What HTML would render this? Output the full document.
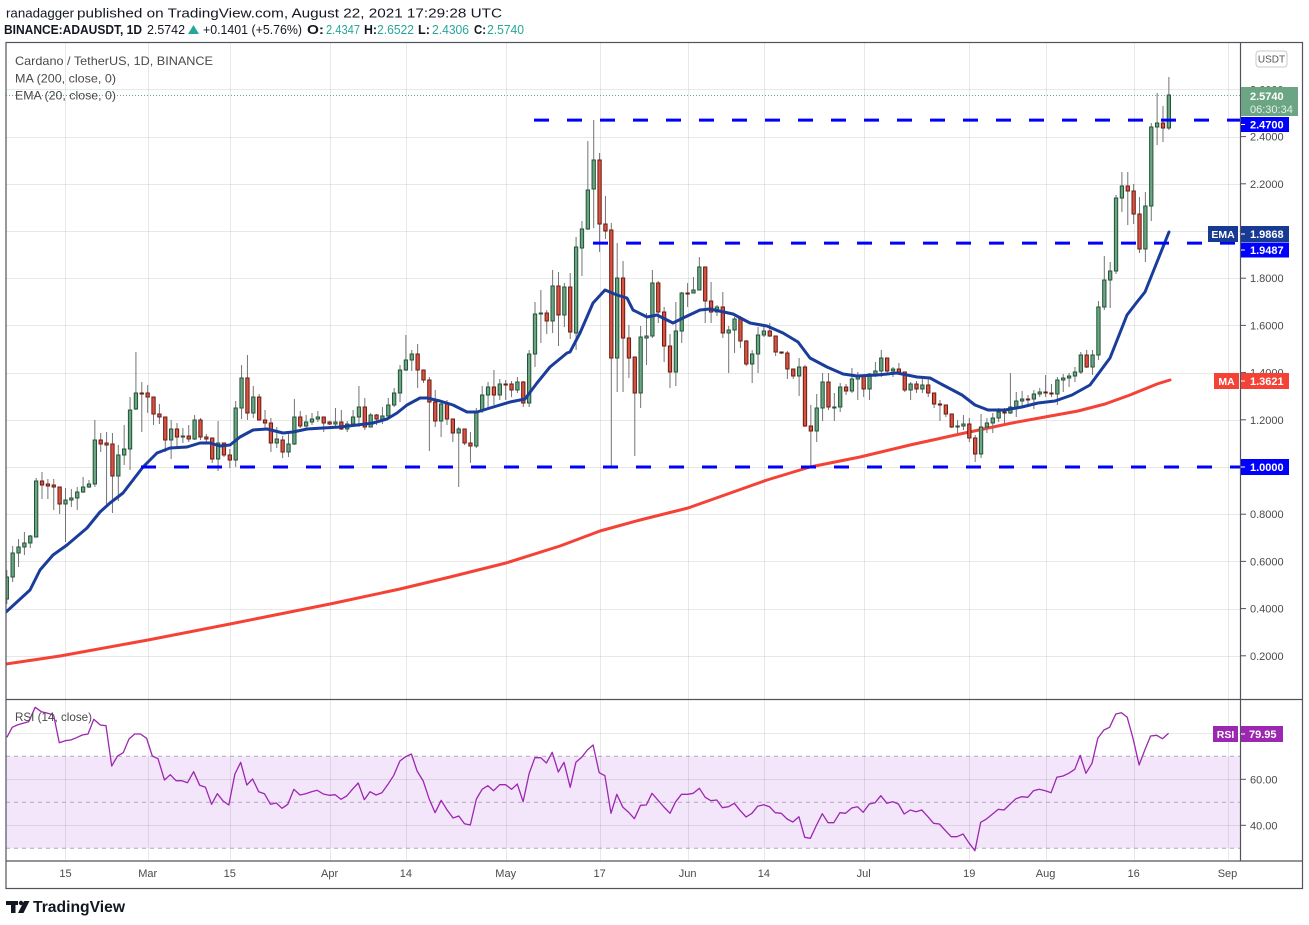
<!DOCTYPE html>
<html><head><meta charset="utf-8">
<style>
html,body{margin:0;padding:0;background:#fff;}
svg{display:block;}
text{font-family:"Liberation Sans",sans-serif;}
</style></head><body>
<svg id="c" width="1309" height="925" viewBox="0 0 1309 925" xmlns="http://www.w3.org/2000/svg">
<defs>
<clipPath id="cp"><rect x="6" y="42.5" width="1234.5" height="656.5"/></clipPath>
<clipPath id="cr"><rect x="6" y="699.5" width="1234.5" height="161.5"/></clipPath>
</defs>
<rect width="1309" height="925" fill="#fff"/>

<!-- header -->
<text x="6" y="17.5" font-size="13" fill="#131722" textLength="68" lengthAdjust="spacingAndGlyphs">ranadagger</text>
<text x="77" y="17.5" font-size="13" fill="#131722" textLength="425" lengthAdjust="spacingAndGlyphs">published on TradingView.com, August 22, 2021 17:29:28 UTC</text>
<text x="4" y="34" font-size="13" font-weight="bold" fill="#131722" textLength="138" lengthAdjust="spacingAndGlyphs">BINANCE:ADAUSDT, 1D</text>
<text x="147" y="34" font-size="13" fill="#131722" textLength="38" lengthAdjust="spacingAndGlyphs">2.5742</text>
<polygon points="188,34 199,34 193.5,25" fill="#26a69a"/>
<text x="203" y="34" font-size="13" fill="#131722" textLength="99" lengthAdjust="spacingAndGlyphs">+0.1401 (+5.76%)</text>
<text x="307" y="34" font-size="13" font-weight="bold" fill="#131722" textLength="17" lengthAdjust="spacingAndGlyphs">O:</text>
<text x="326" y="34" font-size="13" fill="#26a69a" textLength="34" lengthAdjust="spacingAndGlyphs">2.4347</text>
<text x="364" y="34" font-size="13" font-weight="bold" fill="#131722" textLength="13" lengthAdjust="spacingAndGlyphs">H:</text>
<text x="377" y="34" font-size="13" fill="#26a69a" textLength="37" lengthAdjust="spacingAndGlyphs">2.6522</text>
<text x="418" y="34" font-size="13" font-weight="bold" fill="#131722" textLength="12" lengthAdjust="spacingAndGlyphs">L:</text>
<text x="432" y="34" font-size="13" fill="#26a69a" textLength="37" lengthAdjust="spacingAndGlyphs">2.4306</text>
<text x="474" y="34" font-size="13" font-weight="bold" fill="#131722" textLength="12" lengthAdjust="spacingAndGlyphs">C:</text>
<text x="487" y="34" font-size="13" fill="#26a69a" textLength="37" lengthAdjust="spacingAndGlyphs">2.5740</text>

<!-- RSI band -->
<rect x="6" y="756.3" width="1234.5" height="92" fill="#f3e6fb"/>
<g id="grid"></g>
<g id="rsilv"></g>

<!-- price panel -->
<g clip-path="url(#cp)">
  <line x1="6" x2="1240" y1="95.5" y2="95.5" stroke="#6ba583" stroke-width="1" stroke-dasharray="1 2"/>
  <g id="ma"></g>
  <g id="candles"></g>
  <g id="ema"></g>
  <line x1="534" x2="1240" y1="120.1" y2="120.1" stroke="#0000ff" stroke-width="3" stroke-dasharray="15 18"/>
  <line x1="593" x2="1240" y1="243.1" y2="243.1" stroke="#0000ff" stroke-width="3" stroke-dasharray="15 18"/>
  <line x1="141" x2="1240" y1="467" y2="467" stroke="#0000ff" stroke-width="3" stroke-dasharray="15 18"/>
</g>
<g clip-path="url(#cr)"><g id="rsi"></g></g>

<!-- legends -->
<text x="15" y="65" font-size="12" fill="#4a4a4a" textLength="198" lengthAdjust="spacingAndGlyphs">Cardano / TetherUS, 1D, BINANCE</text>
<text x="15" y="82.5" font-size="12" fill="#4a4a4a" textLength="101" lengthAdjust="spacingAndGlyphs">MA (200, close, 0)</text>
<text x="15" y="99.5" font-size="12" fill="#4a4a4a" textLength="101" lengthAdjust="spacingAndGlyphs">EMA (20, close, 0)</text>
<text x="15" y="721" font-size="12" fill="#4a4a4a" textLength="77" lengthAdjust="spacingAndGlyphs">RSI (14, close)</text>

<!-- frame -->
<g stroke="#50535e" stroke-width="1.2" fill="none">
  <rect x="6" y="42.5" width="1296.5" height="846"/>
  <line x1="1240.5" x2="1240.5" y1="42.5" y2="861"/>
  <line x1="6" x2="1302.5" y1="699.5" y2="699.5"/>
  <line x1="6" x2="1302.5" y1="861" y2="861"/>
</g>

<!-- price axis labels -->
<g font-size="11" fill="#4a4a4a">
  <text x="1250" y="93.4">2.6000</text>
  <text x="1250" y="140.6">2.4000</text>
  <text x="1250" y="187.8">2.2000</text>
  <text x="1250" y="235">2.0000</text>
  <text x="1250" y="282.2">1.8000</text>
  <text x="1250" y="329.4">1.6000</text>
  <text x="1250" y="376.6">1.4000</text>
  <text x="1250" y="423.8">1.2000</text>
  <text x="1250" y="518.2">0.8000</text>
  <text x="1250" y="565.4">0.6000</text>
  <text x="1250" y="612.6">0.4000</text>
  <text x="1250" y="659.8">0.2000</text>
  <text x="1250" y="783.3">60.00</text>
  <text x="1250" y="829.3">40.00</text>
</g>
<g stroke="#50535e" stroke-width="1">
  <line x1="1241" x2="1246" y1="89.4" y2="89.4"/>
  <line x1="1241" x2="1246" y1="136.6" y2="136.6"/>
  <line x1="1241" x2="1246" y1="183.8" y2="183.8"/>
  <line x1="1241" x2="1246" y1="278.2" y2="278.2"/>
  <line x1="1241" x2="1246" y1="325.4" y2="325.4"/>
  <line x1="1241" x2="1246" y1="372.6" y2="372.6"/>
  <line x1="1241" x2="1246" y1="419.8" y2="419.8"/>
  <line x1="1241" x2="1246" y1="514.2" y2="514.2"/>
  <line x1="1241" x2="1246" y1="561.4" y2="561.4"/>
  <line x1="1241" x2="1246" y1="608.6" y2="608.6"/>
  <line x1="1241" x2="1246" y1="655.8" y2="655.8"/>
  <line x1="1241" x2="1246" y1="779.3" y2="779.3"/>
  <line x1="1241" x2="1246" y1="825.3" y2="825.3"/>
</g>

<!-- USDT -->
<rect x="1256" y="51" width="31" height="16" rx="3" fill="#fff" stroke="#c8c8c8"/>
<text x="1271.5" y="62.5" font-size="10" fill="#555" text-anchor="middle">USDT</text>

<!-- price tags -->
<rect x="1241" y="87" width="57" height="29" fill="#6ba583"/>
<text x="1250" y="100" font-size="11" font-weight="bold" fill="#fff">2.5740</text>
<text x="1250" y="113" font-size="11" fill="#e3f1e8">06:30:34</text>
<rect x="1241" y="117" width="48" height="15" fill="#0000ff"/>
<text x="1250" y="128.3" font-size="11" font-weight="bold" fill="#fff">2.4700</text>

<rect x="1208" y="226" width="30" height="16" fill="#173a92"/>
<text x="1223" y="238" font-size="10.5" font-weight="bold" fill="#fff" text-anchor="middle">EMA</text>
<rect x="1241" y="226" width="48" height="16" fill="#173a92"/>
<text x="1250" y="238" font-size="11" font-weight="bold" fill="#fff">1.9868</text>
<rect x="1241" y="242.5" width="48" height="15" fill="#0000ff"/>
<text x="1250" y="254" font-size="11" font-weight="bold" fill="#fff">1.9487</text>

<rect x="1214" y="373" width="25" height="16" fill="#f44336"/>
<text x="1226.5" y="385" font-size="10.5" font-weight="bold" fill="#fff" text-anchor="middle">MA</text>
<rect x="1241" y="373" width="48" height="16" fill="#f44336"/>
<text x="1250" y="385" font-size="11" font-weight="bold" fill="#fff">1.3621</text>

<rect x="1241" y="459" width="48" height="16" fill="#0000ff"/>
<text x="1250" y="471" font-size="11" font-weight="bold" fill="#fff">1.0000</text>

<rect x="1213" y="726" width="25" height="16" fill="#9c27b0"/>
<text x="1225.5" y="738" font-size="10.5" font-weight="bold" fill="#fff" text-anchor="middle">RSI</text>
<rect x="1241" y="726" width="42" height="16" fill="#9c27b0"/>
<text x="1249" y="738" font-size="11" font-weight="bold" fill="#fff">79.95</text>

<g stroke="#fff" stroke-width="1">
  <line x1="1241" x2="1245" y1="124.5" y2="124.5"/>
  <line x1="1241" x2="1245" y1="234" y2="234"/>
  <line x1="1241" x2="1245" y1="250" y2="250"/>
  <line x1="1241" x2="1245" y1="381" y2="381"/>
  <line x1="1241" x2="1245" y1="467" y2="467"/>
  <line x1="1241" x2="1245" y1="734" y2="734"/>
</g>

<!-- time axis -->
<g font-size="11" fill="#4a4a4a" text-anchor="middle">
  <text x="65.5" y="877">15</text>
  <text x="147.7" y="877">Mar</text>
  <text x="229.8" y="877">15</text>
  <text x="329.6" y="877">Apr</text>
  <text x="405.9" y="877">14</text>
  <text x="505.7" y="877">May</text>
  <text x="599.6" y="877">17</text>
  <text x="687.6" y="877">Jun</text>
  <text x="763.9" y="877">14</text>
  <text x="863.7" y="877">Jul</text>
  <text x="969.3" y="877">19</text>
  <text x="1045.6" y="877">Aug</text>
  <text x="1133.6" y="877">16</text>
  <text x="1227.5" y="877">Sep</text>
</g>

<!-- logo -->
<g fill="#131722">
  <rect x="6" y="901" width="12" height="4"/>
  <rect x="11" y="901" width="4.5" height="12"/>
  <circle cx="21" cy="903" r="2.2"/>
  <polygon points="18,913 24,901 29.5,901 23.5,913"/>
</g>
<text x="33" y="912" font-size="16" font-weight="bold" fill="#131722" textLength="92" lengthAdjust="spacingAndGlyphs">TradingView</text>
</svg>
<script>
(function(){
var NS="http://www.w3.org/2000/svg";
function mk(t,a,p){var e=document.createElementNS(NS,t);for(var k in a)e.setAttribute(k,a[k]);p.appendChild(e);return e;}
var X0=6.8,DX=5.869;
var GC="rgba(0,0,0,0.09)";
var grid=document.getElementById('grid');
// horizontal price grid
for(var p=0.2;p<2.7;p+=0.2){var y=Math.round(467-(p-1)*236)+0.5;mk('line',{x1:6,x2:1240,y1:y,y2:y,stroke:GC,'stroke-width':1},grid);}
// rsi solid
[733.3,779.3,825.3].forEach(function(y){y=Math.round(y)+0.5;mk('line',{x1:6,x2:1240,y1:y,y2:y,stroke:GC,'stroke-width':1},grid);});
// vertical
[10,24,38,55,68,85,101,116,129,146,164,177,192,208].forEach(function(d){var x=Math.round(X0+d*DX)+0.5;mk('line',{x1:x,x2:x,y1:43,y2:861,stroke:GC,'stroke-width':1},grid);});
var lv=document.getElementById('rsilv');
[756.3,802.3,848.3].forEach(function(y){mk('line',{x1:6,x2:1240,y1:y,y2:y,stroke:'#b4a6bd','stroke-width':1,'stroke-dasharray':'4 4'},lv);});

var C=[
[599,570,604,577],[577,546,582,553],[553,539,567,547],[547,532,555,543],[543,535,548,536],
[537,478,537,481],[481,472,499,485],[484,479,499,486],[485,479,510,487],[487,487,514,504],
[504,488,542,500],[500,489,507,498],[498,487,510,492],[492,477,493,487],[487,480,488,484],
[484,420,487,440],[440,433,452,444],[443,432,507,445],[444,433,513,476],[476,445,501,455],
[455,425,465,449],[449,397,470,410],[409,352,410,393],[393,382,432,394],[393,385,413,397],
[397,397,425,414],[414,404,424,417],[417,417,452,440],[440,420,459,429],[429,423,447,437],
[436.5,428,443,436],[436,425,442,439],[439,415,440,420],[420,418,440,437],[437,434,442,439],
[438,438,463,459],[459,421,471,443],[443,443,457,455],[455,449,468,460],[460,401,467,408],
[408,365,419,378],[378,355,420,413],[413,386,418,397],[397,394,420,420],[420,410,430,423],
[423,418,452,443],[443,427,448,439],[440,436,458,452],[452,432,457,444],[444,399,445,417],
[417,411,428,426],[426,415,430,422],[422,413,425,419],[419,411,422,417],[417,417,432,423],
[422,421,425,424],[424,408,427,422],[422,410,430,429],[429,421,432,424],[424,410,427,417],
[417,386,427,407],[407,398,430,427],[427,413,427,415],[415,414,425,419],[419,407,424,416],
[416,398,417,405],[405,388,407,393],[393,365,402,370],[370,335,371,360],[360,350,371,354],
[354,344,388,370],[370,370,383,380],[380,377,451,402],[402,390,427,421],[421,402,437,404],
[404,400,425,419],[419,419,442,433],[433,427,487,429],[429,429,445,443],[443,432,463,446],
[446,408,448,411],[411,386,413,395],[395,382,408,387],[387,370,405,395],[395,379,400,384],
[384,380,400,385],[384,381,397,390],[390,377,393,382],[382,381,407,403],[403,350,407,354],
[354,302,367,314],[314,290,343,313],[313,310,334,321],[321,270,333,286],[286,272,346,315],
[315,283,327,287],[287,273,339,332],[333,237,350,247],[248,221,276,229],[229,141,230,190],
[189,120,228,160],[160,153,252,224],[224,196,239,231],[230,223,466,358],[358,243,392,278],
[278,261,392,338],[338,325,378,358],[357,357,456,393],[393,326,408,337],[338,313,365,336],
[336,270,338,283],[283,281,323,312],[312,307,362,346],[346,334,388,372],[372,302,386,331],
[331,292,343,293],[293,283,307,294],[293,277,293,290],[290,257,290,267],[267,267,323,301],
[301,282,323,312],[312,305,316,307],[307,292,338,333],[333,326,373,330],[330,317,353,319],
[319,316,348,341],[341,340,366,364],[364,350,383,354],[354,327,373,335],[335,326,337,331],
[331,323,337,336],[336,336,356,352],[352,352,354,353],[353,351,379,369],[369,369,379,376],
[376,358,396,367],[367,365,427,426],[426,405,467,431],[431,394,442,408],[408,373,421,382],
[382,373,410,407],[407.5,393,421,407],[407,383,412,387],[387,384,395,391],[391,368,393,379],
[379,372,400,376],[376,375,397,389],[389,373,400,374],[374,362,377,371],[371,350,377,358],
[358,358,375,371],[371,367,377,369],[369,363,374,372],[372,372,392,390],[390,382,400,384],
[384,381,393,389],[389,379,393,385],[385,378,397,393],[393,393,408,404],[404,400,421,405],
[405,405,417,414],[414,414,428,427],[427,420,433,426],[426,415,430,424],[424,418,442,438],
[438,435,462,454],[454,414,458,427],[427,418,433,423],[423,413,433,418],[418,408,422,412],
[412,408,423,413],[413,373,414,407],[407,392,417,401],[401,391,407,399],[399,395,407,399.5],
[399,390,409,394],[394,388,397,392],[392,375,397,393],[393,384,397,394],[394,377,405,380],
[380,374,392,378],[378,373,387,376],[376,367,382,372],[372,352,374,355],[355,350,368,367],
[367,350,375,355],[355,301,360,307],[307,256,310,280],[280,262,308,271],[271,195,274,198],
[198,172,212,186],[186,172,225,191],[191,184,224,214],[214,197,253,249],[249,192,262,206],
[206,123,221,127],[127,93,145,123],[123,106,142,128],[128,77,130,95]
];
var cg=document.getElementById('candles');
C.forEach(function(d,i){
  var x=X0+i*DX,o=d[0],h=d[1],l=d[2],c=d[3],up=c<=o;
  mk('line',{x1:x,x2:x,y1:h,y2:l,stroke:'#737375','stroke-width':1},cg);
  var top=Math.min(o,c),bh=Math.max(Math.abs(o-c),1);
  mk('rect',{x:x-1.65,y:top,width:3.3,height:bh,fill:up?'#6ba583':'#d75442',stroke:up?'#225437':'#6b1a13','stroke-width':1},cg);
});

var EMA=[[6,612],[30,590],[40,570],[53,555],[67,545],[87,528],[100,512],[110,503],[123,493],[133,480],[143,467],[157,453],[170,448],[187,447],[200,443],[210,443],[220,446],[230,445],[240,437],[253,430],[267,429],[283,433],[293,432],[307,429],[323,428],[340,427],[357,425],[373,423],[387,419],[397,413],[407,405],[420,398],[427,398],[440,401],[453,405],[467,412],[477,412],[490,408],[510,402],[525,399],[537,383],[550,367],[567,353],[570,352],[580,333],[593,303],[605,290],[617,295],[627,298],[633,310],[647,317],[657,315],[673,323],[683,318],[700,310],[710,309],[733,314],[750,323],[767,326],[783,333],[798,342],[810,358],[827,367],[843,374],[857,376],[877,375],[897,373],[917,377],[930,378],[943,385],[962,395],[975,405],[988,410],[1005,410],[1022,407],[1038,403],[1055,401],[1072,395],[1090,385],[1110,358],[1127,315],[1137,302],[1145,292],[1157,262],[1169,232]];
var MA=[[6,664],[60,656],[148,640],[230,624],[330,604],[400,589],[450,577],[506,563],[560,546],[600,531],[640,520],[688,508],[767,480],[810,467],[860,457],[910,445],[960,434],[1012,423],[1045,417],[1078,411],[1105,404],[1130,395],[1157,384],[1170,380]];
function pts(a){return a.map(function(p){return p[0]+','+p[1];}).join(' ');}
mk('polyline',{points:pts(MA),fill:'none',stroke:'#f44336','stroke-width':3,'stroke-linejoin':'round','stroke-linecap':'round'},document.getElementById('ma'));
mk('polyline',{points:pts(EMA),fill:'none',stroke:'#1a3d9c','stroke-width':3,'stroke-linejoin':'round','stroke-linecap':'round'},document.getElementById('ema'));

var R1=[[18,112],[32,82],[45,75],[60,70],[75,65],[92,22],[108,35],[125,40],[140,45],[155,128],[170,122],[185,120],[200,113],[215,105],[230,102],[245,58],[262,75],[277,77],[292,198],[307,168],[322,158],[337,117],[352,102],[367,102],[383,115],[398,168],[413,176],[430,240],[445,224],[460,242],[475,242],[490,248],[506,215],[522,256],[537,262],[553,313],[568,281],[583,303],[598,315],[614,222],[629,187],[645,255],[660,237],[676,275],[691,281],[707,313],[722,309],[737,325],[752,313],[768,268],[784,285],[799,281],[814,275],[829,271],[845,282],[860,286],[876,284],[891,298],[906,288],[921,268],[936,249],[952,299],[967,275],[983,285],[998,278],[1014,253],[1029,226],[1045,183],[1060,170],[1075,162],[1090,213],[1106,243],[1122,298],[1137,338],[1153,301],[1168,329],[1184,354],[1199,348],[1214,371],[1229,375],[1245,297],[1260,268],[1275,257],[1290,272],[1306,254],[1321,254],[1337,268],[1352,252],[1367,305],[1383,220],[1398,173],[1413,173],[1428,189],[1443,157],[1459,216],[1474,187],[1490,262],[1505,187],[1520,172],[1535,150]];
var R2=[[8,135],[24,218],[39,227],[55,340],[70,283],[86,322],[101,337],[116,356],[132,316],[147,315],[162,280],[178,301],[193,321],[209,340],[224,305],[239,283],[255,283],[270,280],[286,265],[301,292],[316,302],[331,300],[346,323],[362,320],[377,310],[392,331],[408,351],[423,340],[438,319],[454,314],[469,320],[484,338],[500,340],[515,357],[530,366],[546,350],[561,412],[576,415],[591,378],[607,341],[622,368],[637,368],[653,338],[668,340],[684,324],[699,320],[714,337],[730,312],[745,308],[760,287],[776,310],[791,305],[806,312],[821,342],[837,330],[852,335],[867,330],[883,350],[898,370],[913,372],[929,392],[944,410],[959,410],[975,402],[990,428],[1006,452],[1021,367],[1036,357],[1052,342],[1067,328],[1082,330],[1098,312],[1113,296],[1128,290],[1144,292],[1159,272],[1174,268],[1190,272],[1205,278],[1220,232],[1236,228],[1251,220],[1267,208],[1281,166],[1296,220],[1312,190],[1327,115],[1343,90],[1358,82],[1374,42],[1389,38],[1404,52],[1419,115],[1435,195],[1450,150],[1465,108],[1481,106],[1496,116],[1512,100]];
var f=600/1568,RP=[];
R1.forEach(function(p){RP.push([(p[0]*f).toFixed(1),(700+p[1]/3).toFixed(1)]);});
R2.forEach(function(p){RP.push([(590+p[0]*f).toFixed(1),(700+p[1]/3).toFixed(1)]);});
mk('polyline',{points:pts(RP),fill:'none',stroke:'#9c27b0','stroke-width':1.3,'stroke-linejoin':'round'},document.getElementById('rsi'));
})();
</script>
</body></html>
